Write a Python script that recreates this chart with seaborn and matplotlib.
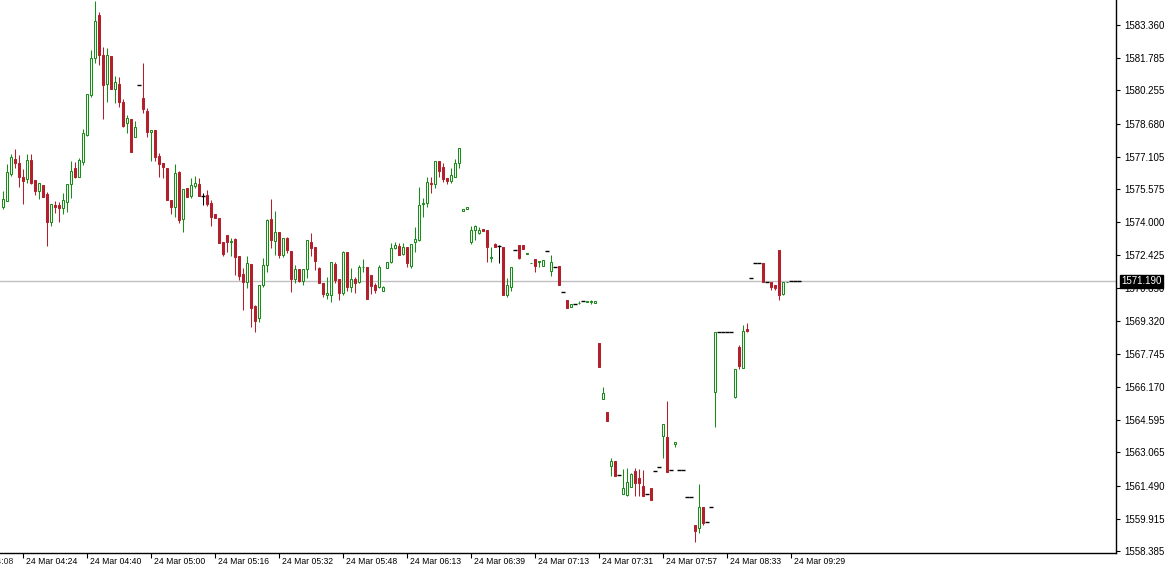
import numpy as np
import pandas as pd
import matplotlib
matplotlib.use('Agg')
import matplotlib.pyplot as plt
import matplotlib.transforms as mtransforms
import seaborn as sns

# OHLC of the 1-minute-ish bars (left -> right)
opens = [
    1574.72, 1575.00, 1576.28, 1577.00, 1576.81, 1576.14, 1576.05, 1576.95, 1576.00, 1575.48,
    1575.76, 1575.33, 1574.00, 1574.81, 1574.81, 1574.67, 1574.96, 1575.81, 1576.57, 1576.14,
    1576.86, 1578.14, 1580.04, 1581.80, 1583.84, 1581.94, 1580.56, 1581.89, 1580.32, 1580.56,
    1579.71, 1578.71, 1578.90, 1578.04, 1580.51, 1579.90, 1579.28, 1578.28, 1578.38, 1577.14,
    1576.81, 1576.57, 1575.05, 1574.72, 1576.38, 1574.15, 1575.62, 1575.24, 1575.71, 1575.81,
    1575.24, 1575.29, 1574.91, 1574.38, 1574.19, 1573.05, 1573.39, 1573.05, 1573.20, 1572.39,
    1571.54, 1571.16, 1572.01, 1570.01, 1569.45, 1571.01, 1571.96, 1574.15, 1573.10, 1573.53,
    1572.44, 1573.24, 1572.63, 1571.30, 1571.77, 1571.20, 1571.77, 1573.05, 1572.82, 1571.82,
    1571.11, 1570.54, 1570.54, 1572.01, 1571.30, 1570.63, 1572.58, 1570.92, 1571.30, 1571.16,
    1571.85, 1571.87, 1571.49, 1571.01, 1570.92, 1570.73, 1571.82, 1572.11, 1572.77, 1572.87,
    1572.49, 1572.82, 1571.92, 1573.05, 1573.15, 1574.86, 1574.91, 1575.86, 1575.81, 1576.90,
    1576.62, 1576.09, 1575.95, 1576.14, 1576.81, 1574.53, 1574.62, 1573.05, 1573.62, 1573.48,
    1573.67, 1573.62, 1572.32, 1572.96, 1572.87, 1572.82, 1570.54, 1570.92, 1572.68, 1572.91,
    1572.91, 1572.51, 1572.04, 1572.25, 1572.13, 1571.92, 1572.63, 1571.68, 1571.87, 1571.92,
    1570.68, 1570.30, 1569.97, 1570.11, 1570.14, 1570.25, 1570.23, 1570.23, 1570.16, 1568.26,
    1565.60, 1564.98, 1562.42, 1562.65, 1561.99, 1561.09, 1561.04, 1561.42, 1562.18, 1561.85,
    1561.47, 1561.09, 1561.37, 1562.18, 1562.37, 1563.84, 1563.79, 1562.23, 1563.46, 1562.23,
    1562.23, 1560.94, 1560.94, 1559.61, 1559.47, 1560.47, 1559.75, 1560.47, 1565.93, 1568.78,
    1568.78, 1568.78, 1568.78, 1565.69, 1568.07, 1567.07, 1568.92, 1571.35, 1572.06, 1572.06,
    1572.06, 1571.16, 1571.16, 1571.01, 1572.68, 1570.59, 1571.14, 1571.19, 1571.19, 1571.19,
]
highs = [
    1575.48, 1576.76, 1577.23, 1577.47, 1577.19, 1576.52, 1577.23, 1577.23, 1576.00, 1575.86,
    1575.76, 1575.43, 1574.86, 1575.00, 1574.96, 1575.38, 1575.81, 1576.90, 1576.86, 1577.05,
    1578.42, 1580.09, 1582.18, 1584.50, 1583.98, 1582.32, 1582.27, 1581.89, 1580.94, 1580.89,
    1579.85, 1579.09, 1578.90, 1578.80, 1580.51, 1581.56, 1579.42, 1578.38, 1578.38, 1577.28,
    1576.81, 1576.57, 1575.05, 1576.76, 1576.43, 1575.57, 1575.62, 1576.09, 1576.19, 1576.09,
    1575.38, 1575.52, 1575.05, 1574.38, 1574.19, 1573.05, 1573.39, 1573.24, 1573.24, 1572.39,
    1571.82, 1572.39, 1572.01, 1570.06, 1571.01, 1572.30, 1574.15, 1575.10, 1574.53, 1573.53,
    1573.24, 1573.29, 1572.63, 1571.96, 1571.77, 1571.77, 1573.15, 1573.48, 1572.82, 1571.87,
    1571.11, 1571.39, 1572.11, 1572.11, 1571.30, 1572.63, 1572.58, 1571.82, 1571.39, 1571.96,
    1572.25, 1571.87, 1571.49, 1571.11, 1571.96, 1570.97, 1572.11, 1573.01, 1573.05, 1573.01,
    1573.01, 1572.82, 1572.96, 1573.77, 1575.67, 1575.14, 1576.14, 1576.14, 1576.90, 1576.90,
    1576.81, 1576.09, 1576.57, 1577.00, 1577.52, 1574.62, 1574.72, 1573.81, 1573.86, 1573.77,
    1573.67, 1573.62, 1572.82, 1573.01, 1572.91, 1572.82, 1571.35, 1571.87, 1572.68, 1572.91,
    1572.91, 1572.53, 1572.06, 1572.25, 1572.15, 1572.20, 1572.63, 1572.44, 1571.87, 1571.92,
    1570.68, 1570.30, 1570.11, 1570.11, 1570.25, 1570.25, 1570.25, 1570.30, 1570.25, 1568.26,
    1566.17, 1564.98, 1562.79, 1562.65, 1561.99, 1562.27, 1562.32, 1562.08, 1562.32, 1562.27,
    1562.23, 1561.09, 1561.37, 1562.18, 1562.37, 1564.41, 1565.50, 1562.23, 1563.56, 1562.23,
    1562.23, 1560.94, 1560.94, 1559.61, 1561.56, 1560.47, 1559.75, 1560.47, 1568.78, 1568.78,
    1568.78, 1568.78, 1568.78, 1567.02, 1568.16, 1569.11, 1569.21, 1571.35, 1572.06, 1572.06,
    1572.06, 1571.16, 1571.16, 1571.01, 1572.68, 1571.16, 1571.16, 1571.19, 1571.19, 1571.19,
]
lows = [
    1574.62, 1575.00, 1576.19, 1576.57, 1575.67, 1574.86, 1575.86, 1575.81, 1575.29, 1575.10,
    1575.19, 1572.87, 1573.81, 1574.43, 1574.00, 1574.38, 1574.48, 1575.14, 1576.09, 1576.14,
    1576.71, 1578.09, 1579.94, 1581.56, 1581.46, 1578.90, 1579.71, 1580.32, 1579.66, 1579.47,
    1578.52, 1578.23, 1577.33, 1578.04, 1580.51, 1579.18, 1578.04, 1576.90, 1576.90, 1576.14,
    1576.09, 1575.05, 1574.38, 1574.24, 1573.96, 1573.53, 1575.19, 1575.14, 1575.62, 1575.24,
    1574.81, 1574.77, 1573.81, 1574.19, 1573.01, 1572.39, 1572.58, 1572.39, 1571.49, 1571.25,
    1569.83, 1570.87, 1569.02, 1568.78, 1569.25, 1570.92, 1571.63, 1572.77, 1572.44, 1572.30,
    1572.34, 1572.53, 1570.68, 1571.11, 1571.16, 1571.01, 1571.35, 1572.39, 1571.73, 1571.11,
    1570.44, 1570.35, 1570.20, 1571.11, 1570.30, 1570.54, 1570.73, 1570.68, 1570.63, 1571.11,
    1571.63, 1570.35, 1570.59, 1570.63, 1570.87, 1570.73, 1571.82, 1572.06, 1572.72, 1572.44,
    1572.44, 1571.87, 1571.82, 1572.58, 1573.10, 1574.24, 1574.72, 1575.38, 1575.62, 1576.14,
    1575.90, 1575.81, 1575.86, 1576.14, 1576.57, 1574.53, 1574.62, 1572.96, 1573.15, 1573.43,
    1573.58, 1572.11, 1572.11, 1572.82, 1572.06, 1570.54, 1570.44, 1570.73, 1572.68, 1572.25,
    1572.72, 1572.51, 1572.04, 1571.63, 1571.87, 1571.92, 1572.63, 1571.44, 1571.87, 1571.01,
    1570.68, 1569.92, 1569.97, 1570.11, 1570.09, 1570.25, 1570.23, 1570.11, 1570.16, 1567.12,
    1565.60, 1564.55, 1561.94, 1561.94, 1561.99, 1561.09, 1560.99, 1561.42, 1560.99, 1560.99,
    1560.99, 1561.09, 1560.80, 1562.18, 1562.37, 1562.79, 1562.13, 1562.23, 1563.32, 1562.23,
    1562.23, 1560.94, 1560.94, 1558.81, 1559.23, 1559.61, 1559.75, 1560.47, 1564.27, 1568.78,
    1568.78, 1568.78, 1568.78, 1565.65, 1567.02, 1567.07, 1568.78, 1571.35, 1572.06, 1572.06,
    1571.16, 1571.16, 1570.78, 1570.78, 1570.30, 1570.54, 1571.14, 1571.19, 1571.19, 1571.19,
]
closes = [
    1575.10, 1576.38, 1577.09, 1576.81, 1576.14, 1575.95, 1576.95, 1575.86, 1575.48, 1575.86,
    1575.19, 1574.00, 1574.86, 1574.74, 1574.67, 1575.05, 1575.81, 1576.43, 1576.14, 1576.95,
    1578.23, 1580.09, 1581.80, 1583.55, 1581.94, 1580.51, 1581.94, 1580.32, 1580.66, 1579.71,
    1578.57, 1578.95, 1577.33, 1578.52, 1580.51, 1579.37, 1578.28, 1578.38, 1577.09, 1576.76,
    1576.62, 1575.05, 1574.72, 1576.33, 1574.10, 1575.57, 1575.19, 1575.76, 1575.86, 1575.24,
    1575.24, 1574.86, 1574.24, 1574.19, 1573.01, 1572.49, 1573.05, 1573.10, 1572.34, 1571.44,
    1571.16, 1572.06, 1569.92, 1569.30, 1571.01, 1571.96, 1574.10, 1573.15, 1573.53, 1572.44,
    1573.24, 1572.68, 1571.30, 1571.77, 1571.20, 1571.77, 1573.15, 1572.77, 1572.15, 1571.11,
    1570.59, 1570.63, 1572.11, 1571.25, 1570.63, 1572.58, 1570.92, 1571.30, 1571.11, 1571.87,
    1571.87, 1570.35, 1570.97, 1570.78, 1571.87, 1570.92, 1572.11, 1572.77, 1572.91, 1572.44,
    1572.82, 1572.06, 1572.96, 1573.20, 1574.81, 1574.91, 1575.90, 1575.81, 1576.90, 1576.43,
    1576.05, 1575.95, 1576.24, 1576.81, 1577.52, 1574.62, 1574.72, 1573.62, 1573.81, 1573.62,
    1573.58, 1572.82, 1572.34, 1572.82, 1572.87, 1570.54, 1571.01, 1571.87, 1572.68, 1572.30,
    1572.72, 1572.53, 1572.06, 1571.92, 1572.15, 1572.20, 1572.63, 1572.11, 1571.87, 1571.01,
    1570.68, 1569.92, 1570.11, 1570.11, 1570.16, 1570.25, 1570.25, 1570.25, 1570.25, 1567.12,
    1565.88, 1564.55, 1562.65, 1561.94, 1561.99, 1561.37, 1561.66, 1562.04, 1561.61, 1561.61,
    1560.99, 1561.09, 1560.80, 1562.18, 1562.37, 1564.41, 1562.13, 1562.23, 1563.56, 1562.23,
    1562.23, 1560.94, 1560.94, 1559.33, 1560.47, 1559.71, 1559.75, 1560.47, 1568.78, 1568.78,
    1568.78, 1568.78, 1568.78, 1567.02, 1567.17, 1568.83, 1568.83, 1571.35, 1572.06, 1572.06,
    1571.16, 1571.16, 1570.92, 1570.87, 1570.54, 1571.16, 1571.16, 1571.19, 1571.19, 1571.19,
]

# time axis labels (bar index where each label sits)
time_idx = [5, 21, 37, 53, 69, 85, 101, 117, 133, 149, 165, 181, 197]
time_lbl = ['24 Mar 04:24', '24 Mar 04:40', '24 Mar 05:00', '24 Mar 05:16', '24 Mar 05:32',
            '24 Mar 05:48', '24 Mar 06:13', '24 Mar 06:39', '24 Mar 07:13', '24 Mar 07:31',
            '24 Mar 07:57', '24 Mar 08:33', '24 Mar 09:29']
first_idx = -11
first_lbl = '24 Mar 04:08'

price_ticks = [1583.360, 1581.785, 1580.255, 1578.680, 1577.105, 1575.575, 1574.000,
               1572.425, 1570.850, 1569.320, 1567.745, 1566.170, 1564.595, 1563.065,
               1561.490, 1559.915, 1558.385]
last_price = 1571.19

GREEN = '#1a8c1a'
RED = '#b3202d'

sns.set_style('white')
plt.rcParams['font.family'] = ['Liberation Sans', 'DejaVu Sans']

df = pd.DataFrame({'o': opens, 'h': highs, 'l': lows, 'c': closes})
df['i'] = np.arange(len(df))
up = df[df.c > df.o]
dn = df[df.c < df.o]
eq = df[df.c == df.o]

fig, ax = plt.subplots(figsize=(11.69, 5.71), dpi=100)
ax.set_position([0, 18 / 571, 1116 / 1169, 553 / 571])

ax.axhline(last_price, color='#c0c0c0', lw=1, zorder=0)

lw = 0.75
# wicks
ax.vlines(up.i, up.l, up.h, color=GREEN, lw=lw, zorder=1)
ax.vlines(dn.i, dn.l, dn.h, color=RED, lw=lw, zorder=1)
ax.vlines(eq.i, eq.l, eq.h, color='black', lw=lw, zorder=1)
# bodies
ax.bar(up.i, up.c - up.o, bottom=up.o, width=0.5, facecolor='white', edgecolor=GREEN,
       linewidth=lw, zorder=2)
ax.bar(dn.i, dn.o - dn.c, bottom=dn.c, width=0.5, facecolor=RED, edgecolor=RED,
       linewidth=lw, zorder=2)
ax.hlines(eq.o, eq.i - 0.38, eq.i + 0.38, color='black', lw=1.0, zorder=2)

ax.set_xlim(-0.75, 278.25)
ax.set_ylim(1558.289, 1584.547)

for s in ['left', 'top']:
    ax.spines[s].set_visible(False)
for s in ['right', 'bottom']:
    ax.spines[s].set_color('black')
    ax.spines[s].set_linewidth(1)

ax.yaxis.tick_right()
ax.set_yticks(price_ticks, labels=[f'{v:.3f}' for v in price_ticks])
ax.tick_params(axis='y', direction='out', length=3, width=0.8, pad=3, labelsize=7,
               colors='black', right=True, left=False)

ax.set_xticks(time_idx, labels=time_lbl)
ax.tick_params(axis='x', direction='out', length=3.6, width=0.8, pad=-0.6, labelsize=6.2,
               colors='black', bottom=True)
shift = mtransforms.ScaledTranslation(0.03, 0, fig.dpi_scale_trans)
for lab in ax.get_xticklabels():
    lab.set_horizontalalignment('left')
    lab.set_transform(lab.get_transform() + shift)

ax.text(first_idx, 0, first_lbl, fontsize=6.2, ha='left', va='top', clip_on=False,
        transform=ax.get_xaxis_transform()
        + mtransforms.ScaledTranslation(0.03, -0.042, fig.dpi_scale_trans))

ax.text(1.0, last_price, f'{last_price:.3f}', color='white', fontsize=7, ha='left',
        va='center', clip_on=False, zorder=5,
        transform=mtransforms.blended_transform_factory(ax.transAxes, ax.transData)
        + mtransforms.ScaledTranslation(0.05, 0, fig.dpi_scale_trans),
        bbox=dict(boxstyle='square,pad=0.15', fc='black', ec='black'))

ax.grid(False)
fig.savefig('out.png', dpi=100)
